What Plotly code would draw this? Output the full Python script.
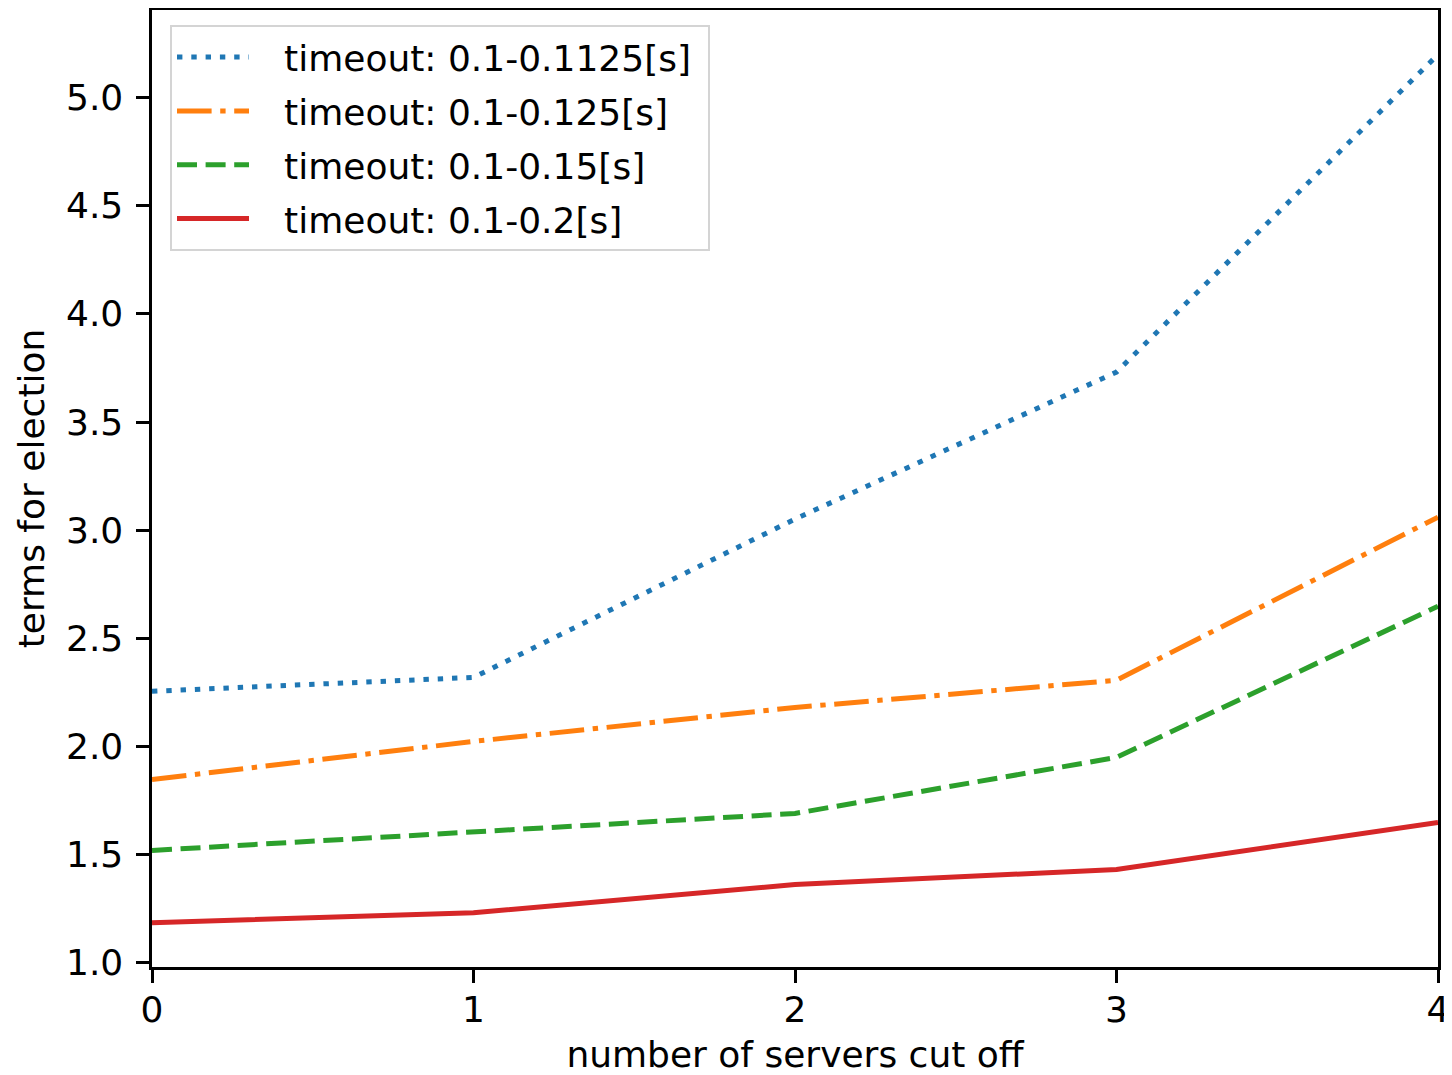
import plotly.graph_objects as go

servers_cut = [0, 1, 2, 3, 4]
series_names = [
    "timeout: 0.1-0.1125[s]",
    "timeout: 0.1-0.125[s]",
    "timeout: 0.1-0.15[s]",
    "timeout: 0.1-0.2[s]",
]
terms_01125 = [2.255, 2.319, 3.051, 3.731, 5.199]
terms_0125 = [1.847, 2.023, 2.180, 2.306, 3.060]
terms_015 = [1.519, 1.602, 1.690, 1.949, 2.648]
terms_02 = [1.185, 1.231, 1.361, 1.431, 1.648]

colors = ["#1f77b4", "#ff7f0e", "#2ca02c", "#d62728"]
dashes = ["5.4px,8.9px", "34.6px,8.6px,5.4px,8.6px", "20px,8.6px", "solid"]
values = [terms_01125, terms_0125, terms_015, terms_02]

fig = go.Figure()
for i, (name, ys) in enumerate(zip(series_names, values)):
    fig.add_trace(go.Scatter(
        x=servers_cut, y=ys, mode="lines",
        name="\u00a0\u00a0\u2009" + name + "\u00a0",
        legendgroup=f"g{i}",
        line=dict(color=colors[i], width=5, dash=dashes[i]),
    ))

font = dict(family="DejaVu Sans", size=36, color="black")

# page body has an 8px margin; compensate so the plot area lands where the reference has it
fig.update_layout(
    width=1444, height=1067,
    margin=dict(l=144, r=14, t=2, b=108),
    paper_bgcolor="white", plot_bgcolor="white",
    font=font,
    showlegend=True,
    legend=dict(
        x=0.014, y=0.9841, xanchor="left", yanchor="top",
        bgcolor="rgba(255,255,255,0.8)", bordercolor="#d4d4d4", borderwidth=2,
        font=font, tracegroupgap=4, itemwidth=72,
    ),
    xaxis=dict(
        range=[0, 4], tick0=0, dtick=1, showgrid=False, zeroline=False,
        showline=True, linecolor="black", linewidth=2.9, mirror=True,
        ticks="outside", ticklen=12.6, tickwidth=2.9, tickcolor="black",
        ticklabelstandoff=-4, automargin=False,
        title=dict(text="number of servers cut off", font=font, standoff=19),
    ),
    yaxis=dict(
        range=[0.98, 5.405], tick0=1.0, dtick=0.5, tickformat=".1f",
        showgrid=False, zeroline=False,
        showline=True, linecolor="black", linewidth=2.9, mirror=True,
        ticks="outside", ticklen=12.6, tickwidth=2.9, tickcolor="black",
        ticklabelstandoff=6, automargin=False,
        title=dict(text="terms for election", font=font, standoff=11),
    ),
)

fig.write_html("out.html")
